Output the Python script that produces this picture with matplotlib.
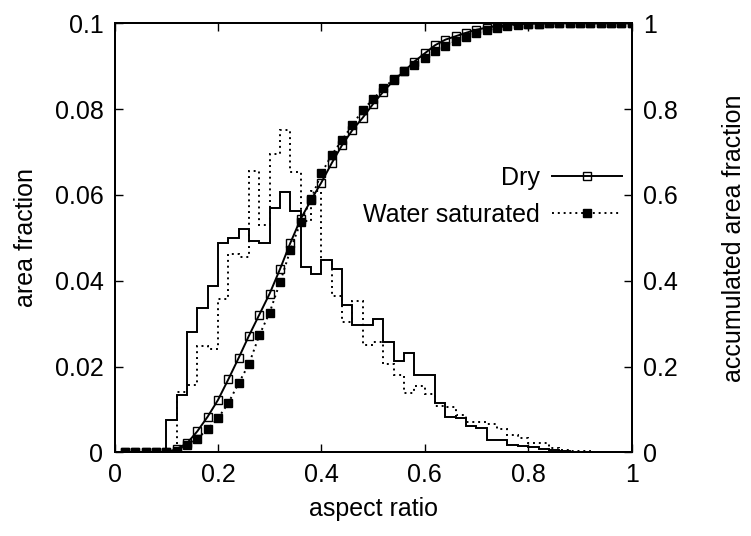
import numpy as np
import matplotlib
matplotlib.use('Agg')
import matplotlib.pyplot as plt

plt.rcParams['font.family'] = ['Liberation Sans', 'DejaVu Sans']
plt.rcParams['font.size'] = 18

# aspect ratio bins, width 0.02 from 0 to 1
bin_edges = np.linspace(0, 1, 51)

# area fraction per bin (left axis)
dry_frac = [0, 0, 0, 0, 0,
            0.0075, 0.0134, 0.0281, 0.0336, 0.0388,
            0.0487, 0.0499, 0.0520, 0.0493, 0.0489,
            0.0569, 0.0606, 0.0563, 0.0433, 0.0415,
            0.0448, 0.0427, 0.0343, 0.0297, 0.0297,
            0.0312, 0.0258, 0.0213, 0.0232, 0.0181,
            0.0181, 0.0114, 0.0082, 0.0079, 0.0061,
            0.0056, 0.0030, 0.0028, 0.0018, 0.0014,
            0.0012, 0.0009, 0.0006, 0.0003, 0.0002,
            0.0001, 0, 0, 0, 0]
wet_frac = [0, 0, 0, 0, 0,
            0, 0.0140, 0.0158, 0.0249, 0.0242,
            0.0357, 0.0462, 0.0455, 0.0655, 0.0530,
            0.0696, 0.0752, 0.0653, 0.0540, 0.0610,
            0.0448, 0.0364, 0.0304, 0.0353, 0.0250,
            0.0258, 0.0207, 0.0180, 0.0139, 0.0154,
            0.0137, 0.0108, 0.0106, 0.0087, 0.0071,
            0.0071, 0.0066, 0.0054, 0.0040, 0.0033,
            0.0021, 0.0021, 0.0010, 0.0006, 0.0003,
            0.0003, 0, 0, 0, 0]

# accumulated area fraction at the upper end of each bin (right axis)
dry_cum = [0, 0, 0, 0, 0,
           0.008, 0.021, 0.049, 0.083, 0.122,
           0.170, 0.220, 0.272, 0.321, 0.370,
           0.427, 0.488, 0.544, 0.588, 0.629,
           0.674, 0.716, 0.751, 0.780, 0.812,
           0.841, 0.867, 0.888, 0.911, 0.930,
           0.949, 0.962, 0.970, 0.978, 0.985,
           0.990, 0.994, 0.996, 0.998, 0.999,
           0.999, 1, 1, 1, 1,
           1, 1, 1, 1, 1]
wet_cum = [0, 0, 0, 0, 0,
           0.003, 0.017, 0.031, 0.055, 0.079,
           0.115, 0.161, 0.206, 0.273, 0.326,
           0.396, 0.471, 0.537, 0.590, 0.650,
           0.693, 0.728, 0.763, 0.798, 0.823,
           0.849, 0.870, 0.888, 0.903, 0.920,
           0.935, 0.948, 0.959, 0.969, 0.977,
           0.984, 0.990, 0.994, 0.997, 0.998,
           0.999, 1, 1, 1, 1,
           1, 1, 1, 1, 1]

x_ticks = [0, 0.2, 0.4, 0.6, 0.8, 1]
x_labels = ['0', '0.2', '0.4', '0.6', '0.8', '1']
left_ticks = [0, 0.02, 0.04, 0.06, 0.08, 0.1]
left_labels = ['0', '0.02', '0.04', '0.06', '0.08', '0.1']
right_ticks = [0, 0.2, 0.4, 0.6, 0.8, 1]
right_labels = ['0', '0.2', '0.4', '0.6', '0.8', '1']

cum_x = bin_edges[1:]
dots = (0, (1, 2))
lw = 1.4

fig = plt.figure(figsize=(7.51, 5.36), dpi=100)
ax = fig.add_axes([0.1525, 0.156, 0.6885, 0.8005])
ax2 = ax.twinx()

ax.stairs(dry_frac, bin_edges, color='black', lw=lw)
ax.stairs(wet_frac, bin_edges, color='black', lw=lw, linestyle=dots)

dry_line, = ax2.plot(cum_x, dry_cum, color='black', lw=lw, marker='s',
                     ms=5.5, mfc='none', mec='black', mew=1.0)
wet_line, = ax2.plot(cum_x, wet_cum, color='black', lw=lw, linestyle=dots,
                     marker='s', ms=5.5, mfc='black', mec='black')

ax.set_xlim(0, 1)
ax.set_ylim(0, 0.1)
ax2.set_ylim(0, 1)

ax.set_xticks(x_ticks, x_labels)
ax.set_yticks(left_ticks, left_labels)
ax2.set_yticks(right_ticks, right_labels)

ax.tick_params(axis='x', direction='in', length=6, width=1, top=True, pad=8)
ax.tick_params(axis='y', direction='in', length=6, width=1, right=False, pad=8)
ax2.tick_params(axis='y', direction='in', length=6, width=1, pad=8)
for a in (ax, ax2):
    for s in a.spines.values():
        s.set_linewidth(lw)

ax.set_xlabel('aspect ratio', labelpad=7)
ax.set_ylabel('area fraction', labelpad=12)
ax2.set_ylabel('accumulated area fraction', labelpad=32)

leg1 = ax2.legend([dry_line], ['Dry'], loc='center right',
                  bbox_to_anchor=(0.982, 0.639), frameon=False,
                  markerfirst=False, handlelength=2.8, handletextpad=0.5,
                  borderpad=0, borderaxespad=0)
ax2.add_artist(leg1)
ax2.legend([wet_line], ['Water saturated'], loc='center right',
           bbox_to_anchor=(0.982, 0.553), frameon=False,
           markerfirst=False, handlelength=2.8, handletextpad=0.5,
           borderpad=0, borderaxespad=0)

fig.savefig('out.png', dpi=100)
